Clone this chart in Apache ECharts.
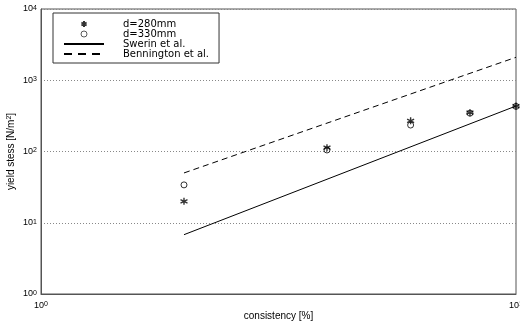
<!DOCTYPE html>
<html>
<head>
<meta charset="utf-8">
<script src="https://cdn.jsdelivr.net/npm/echarts@6/dist/echarts.min.js"></script>
<style>html,body{margin:0;padding:0;background:#fff}#c{width:520px;height:325px}</style>
</head>
<body>
<div id="c"></div>
<script>
// data
var consistency = [2, 4, 6, 8, 10];
var d280 = [20, 113, 270, 350, 435];
var d330 = [34, 105, 235, 345, 430];
var swerinX = [2, 10];
var swerinY = [6.8, 435];
var benningtonX = [2, 10];
var benningtonY = [50, 2100];
var seriesNames = ['d=280mm', 'd=330mm', 'Swerin et al.', 'Bennington et al.'];
var xTicks = [1, 10];
var yTicks = [1, 10, 100, 1000, 10000];

var FONT = 'Liberation Sans';
function pairs(xs, ys) { return xs.map(function (x, i) { return [x, ys[i]]; }); }
function pow10(v) {
  var e = Math.round(Math.log10(v));
  return '{b|10}{s|' + e + '}';
}
var labelRich = {
  b: { fontSize: 9, fontFamily: FONT, color: '#000', lineHeight: 9, verticalAlign: 'bottom' },
  s: { fontSize: 7, fontFamily: FONT, color: '#000', lineHeight: 7, padding: [0, 0, 5, 0], verticalAlign: 'top' }
};
var star = 'path://M0,-5L0,5M-4.33,-2.5L4.33,2.5M-4.33,2.5L4.33,-2.5';
var hiddenSymbol = { color: 'rgba(0,0,0,0)', borderWidth: 0, opacity: 0 };

var chart = echarts.init(document.getElementById('c'), null, { renderer: 'canvas' });
chart.setOption({
  animation: false,
  backgroundColor: '#fff',
  grid: { left: 41, right: 4, top: 9, bottom: 31, show: true, borderColor: '#555', borderWidth: 1, outerBoundsMode: 'none', containLabel: false },
  legend: {
    orient: 'vertical', left: 53, top: 13,
    padding: [6, 10, 4, 10],
    itemWidth: 40, itemHeight: 6, itemGap: 0,
    borderColor: '#333', borderWidth: 1, backgroundColor: '#fff',
    data: [
      { name: seriesNames[0] },
      { name: seriesNames[1], itemStyle: { borderWidth: 0.8 } },
      { name: seriesNames[2], itemStyle: hiddenSymbol },
      { name: seriesNames[3], itemStyle: hiddenSymbol, lineStyle: { type: [8, 6] } }
    ],
    textStyle: { fontFamily: 'DejaVu Sans', fontSize: 10, lineHeight: 10, color: '#000', padding: [0, 0, 0, 14] }
  },
  xAxis: {
    type: 'log', logBase: 10, min: xTicks[0], max: xTicks[xTicks.length - 1],
    name: 'consistency [%]', nameLocation: 'middle', nameGap: 17, nameMoveOverlap: false,
    nameTextStyle: { fontFamily: FONT, fontSize: 10, color: '#000' },
    axisLine: { lineStyle: { color: '#555', width: 1 } },
    axisTick: { show: false },
    splitLine: { show: false },
    axisLabel: { formatter: pow10, rich: labelRich, margin: 7, showMinLabel: true, showMaxLabel: true }
  },
  yAxis: {
    type: 'log', logBase: 10, min: yTicks[0], max: yTicks[yTicks.length - 1],
    name: '{a|yield stess [N/m}{s|2}{a|]}', nameLocation: 'middle', nameGap: 25, nameRotate: 90, nameMoveOverlap: false,
    nameTextStyle: {
      rich: {
        a: { fontFamily: FONT, fontSize: 10, color: '#000', lineHeight: 10, verticalAlign: 'bottom' },
        s: { fontFamily: FONT, fontSize: 7, color: '#000', lineHeight: 7, padding: [0, 0, 5, 0], verticalAlign: 'top' }
      }
    },
    axisLine: { show: true, lineStyle: { color: '#555', width: 1 } },
    axisTick: { show: false },
    splitLine: { show: true, lineStyle: { color: '#888', width: 1, type: [1, 2] } },
    axisLabel: { formatter: pow10, rich: labelRich, margin: 4, showMinLabel: true, showMaxLabel: true }
  },
  series: [
    {
      name: seriesNames[0], type: 'scatter', data: pairs(consistency, d280), z: 4,
      symbol: star, symbolSize: 7,
      itemStyle: { color: 'rgba(0,0,0,0)', borderColor: '#000', borderWidth: 1.4 }
    },
    {
      name: seriesNames[1], type: 'scatter', data: pairs(consistency, d330), z: 3,
      symbol: 'circle', symbolSize: 6,
      itemStyle: { color: 'rgba(0,0,0,0)', borderColor: '#000', borderWidth: 1 }
    },
    {
      name: seriesNames[2], type: 'line', data: pairs(swerinX, swerinY),
      symbol: 'none', lineStyle: { color: '#000', width: 1, type: 'solid' }, itemStyle: { color: '#000' }
    },
    {
      name: seriesNames[3], type: 'line', data: pairs(benningtonX, benningtonY),
      symbol: 'none', lineStyle: { color: '#000', width: 1, type: [6, 4] }, itemStyle: { color: '#000' }
    }
  ]
});
</script>
</body>
</html>
